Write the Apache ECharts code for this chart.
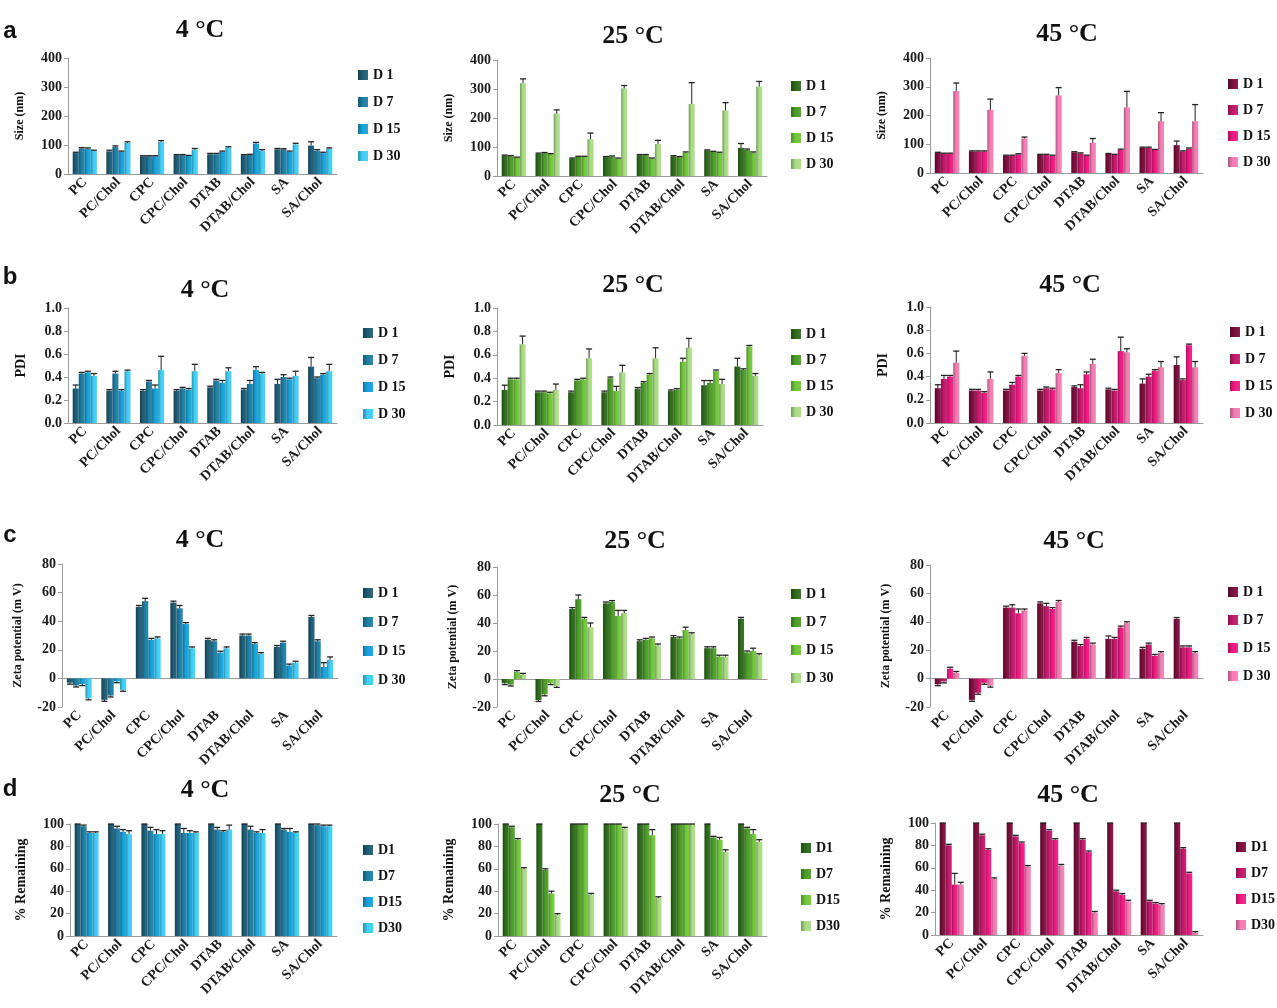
<!DOCTYPE html>
<html>
<head>
<meta charset="utf-8">
<title>Vesicle stability at 4, 25 and 45 °C</title>
<script src="https://cdn.jsdelivr.net/npm/echarts@6/dist/echarts.min.js"></script>
<style>
html, body { margin: 0; padding: 0; background: #fff; }
#chart { width: 1277px; height: 1008px; }
</style>
</head>
<body>
<div id="chart"></div>
<script>
var categories = ['PC', 'PC/Chol', 'CPC', 'CPC/Chol', 'DTAB', 'DTAB/Chol', 'SA', 'SA/Chol']
var dayNames = ['D 1', 'D 7', 'D 15', 'D 30']
var dayNamesD = ['D1', 'D7', 'D15', 'D30']
var temps = ['4 °C', '25 °C', '45 °C']
var panelLetters = ['a', 'b', 'c', 'd']

// rows of each block are D1, D7, D15, D30 ; columns follow categories
// a: size (nm)
var size4 = [
  [72, 78, 61, 65, 68, 65, 85, 98],
  [88, 93, 61, 65, 68, 66, 85, 80],
  [87, 76, 61, 62, 76, 105, 76, 72],
  [79, 107, 110, 84, 91, 80, 102, 87]
]
var size4Err = [
  [3, 4, 2, 2, 3, 2, 3, 13],
  [3, 4, 2, 2, 3, 2, 2, 4],
  [3, 3, 2, 2, 3, 4, 3, 3],
  [3, 4, 5, 4, 3, 4, 4, 3]
]
var size25 = [
  [70, 76, 60, 65, 72, 68, 88, 97],
  [68, 79, 66, 67, 72, 65, 83, 90],
  [63, 75, 66, 60, 60, 80, 80, 80],
  [320, 215, 127, 302, 110, 248, 226, 308]
]
var size25Err = [
  [2, 3, 2, 2, 2, 2, 2, 15],
  [2, 2, 2, 2, 2, 2, 2, 3],
  [2, 2, 2, 2, 2, 3, 2, 3],
  [15, 13, 21, 10, 13, 74, 27, 18]
]
var size45 = [
  [70, 75, 60, 63, 72, 66, 88, 97],
  [67, 75, 60, 63, 68, 63, 88, 75],
  [67, 75, 65, 60, 60, 80, 80, 84],
  [285, 220, 120, 270, 105, 228, 180, 180]
]
var size45Err = [
  [2, 2, 2, 2, 2, 2, 2, 14],
  [2, 2, 2, 2, 2, 2, 2, 2],
  [2, 2, 2, 2, 2, 3, 2, 3],
  [28, 37, 5, 27, 15, 56, 30, 58]
]

// b: PDI
var pdi4 = [
  [0.30, 0.28, 0.28, 0.28, 0.31, 0.29, 0.34, 0.49],
  [0.43, 0.43, 0.36, 0.30, 0.37, 0.34, 0.40, 0.39],
  [0.44, 0.28, 0.30, 0.29, 0.35, 0.46, 0.38, 0.42],
  [0.41, 0.45, 0.46, 0.45, 0.45, 0.43, 0.41, 0.45]
]
var pdi4Err = [
  [0.03, 0.01, 0.01, 0.01, 0.01, 0.01, 0.04, 0.08],
  [0.01, 0.02, 0.01, 0.01, 0.01, 0.03, 0.02, 0.01],
  [0.01, 0.01, 0.03, 0.01, 0.02, 0.03, 0.01, 0.01],
  [0.02, 0.01, 0.12, 0.06, 0.03, 0.01, 0.04, 0.06]
]
var pdi25 = [
  [0.30, 0.28, 0.28, 0.28, 0.31, 0.29, 0.34, 0.50],
  [0.39, 0.28, 0.38, 0.40, 0.36, 0.30, 0.36, 0.47],
  [0.39, 0.27, 0.39, 0.29, 0.43, 0.54, 0.46, 0.67],
  [0.69, 0.30, 0.57, 0.45, 0.57, 0.66, 0.35, 0.42]
]
var pdi25Err = [
  [0.04, 0.01, 0.01, 0.01, 0.01, 0.01, 0.04, 0.07],
  [0.01, 0.01, 0.01, 0.01, 0.01, 0.01, 0.02, 0.01],
  [0.01, 0.01, 0.01, 0.04, 0.01, 0.03, 0.01, 0.01],
  [0.07, 0.05, 0.08, 0.06, 0.09, 0.08, 0.04, 0.02]
]
var pdi45 = [
  [0.30, 0.28, 0.28, 0.28, 0.31, 0.29, 0.34, 0.50],
  [0.38, 0.28, 0.33, 0.30, 0.30, 0.28, 0.40, 0.37],
  [0.40, 0.26, 0.40, 0.29, 0.42, 0.62, 0.45, 0.67],
  [0.52, 0.38, 0.58, 0.43, 0.51, 0.61, 0.48, 0.48]
]
var pdi45Err = [
  [0.03, 0.01, 0.01, 0.01, 0.01, 0.01, 0.04, 0.07],
  [0.03, 0.01, 0.02, 0.01, 0.03, 0.01, 0.02, 0.01],
  [0.01, 0.01, 0.01, 0.01, 0.02, 0.12, 0.01, 0.01],
  [0.10, 0.06, 0.02, 0.03, 0.04, 0.03, 0.05, 0.05]
]

// c: zeta potential (mV)
var zeta4 = [
  [-3, -15, 50, 53, 27, 30, 22, 43],
  [-5, -12, 54, 49, 26, 30, 25, 26],
  [-4, -2, 27, 38, 18, 24, 9, 8],
  [-14, -8, 28, 21, 21, 17, 11, 13]
]
var zeta4Err = [
  [1, 1, 1, 1, 1, 1, 1, 1],
  [1, 1, 2, 2, 1, 1, 1, 1],
  [1, 1, 1, 1, 1, 1, 1, 3],
  [1, 1, 1, 1, 1, 1, 1, 2]
]
var zeta25 = [
  [-3, -15, 50, 54, 27, 30, 22, 43],
  [-4, -11, 57, 55, 28, 29, 22, 19],
  [5, -3, 43, 45, 29, 35, 16, 20],
  [3, -5, 37, 47, 24, 32, 16, 17]
]
var zeta25Err = [
  [1, 1, 1, 1, 1, 1, 1, 1],
  [1, 1, 3, 1, 1, 1, 1, 1],
  [1, 1, 1, 4, 1, 2, 1, 2],
  [1, 1, 3, 2, 1, 1, 1, 1]
]
var zeta45 = [
  [-4, -15, 50, 53, 26, 28, 21, 42],
  [-2, -10, 50, 51, 23, 28, 24, 22],
  [7, -3, 46, 49, 28, 36, 16, 22],
  [4, -5, 48, 54, 24, 39, 18, 18]
]
var zeta45Err = [
  [1, 1, 1, 1, 1, 2, 1, 1],
  [1, 1, 2, 2, 1, 1, 1, 1],
  [1, 1, 3, 1, 1, 1, 1, 1],
  [1, 1, 1, 1, 1, 1, 1, 1]
]

// d: % remaining
var rem4 = [
  [100, 100, 100, 100, 100, 100, 100, 100],
  [98, 96, 94, 92, 95, 95, 95, 99],
  [92, 93, 91, 92, 93, 92, 93, 98],
  [92, 91, 91, 92, 95, 92, 92, 98]
]
var rem4Err = [
  [0, 0, 0, 0, 0, 0, 0, 0],
  [1, 2, 3, 4, 2, 3, 1, 1],
  [1, 2, 4, 2, 1, 1, 3, 1],
  [1, 3, 3, 1, 4, 3, 1, 1]
]
var rem25 = [
  [100, 100, 100, 100, 100, 100, 100, 100],
  [97, 59, 100, 100, 100, 100, 88, 96],
  [86, 38, 100, 100, 90, 100, 86, 91],
  [60, 19, 37, 96, 34, 100, 75, 84]
]
var rem25Err = [
  [0, 0, 0, 0, 0, 0, 0, 0],
  [1, 1, 0, 0, 0, 0, 1, 1],
  [1, 2, 0, 0, 5, 0, 2, 4],
  [1, 1, 1, 1, 1, 0, 2, 2]
]
var rem45 = [
  [100, 100, 100, 100, 100, 100, 100, 100],
  [80, 89, 88, 93, 85, 39, 30, 77],
  [45, 76, 82, 85, 74, 36, 28, 55],
  [45, 50, 61, 62, 20, 30, 27, 2]
]
var rem45Err = [
  [0, 0, 0, 0, 0, 0, 0, 0],
  [1, 1, 1, 1, 1, 1, 1, 1],
  [10, 1, 1, 1, 1, 1, 1, 1],
  [2, 1, 1, 1, 1, 1, 1, 1]
]

var blues = ['#1d5c74', '#1f7ea4', '#16a2d8', '#3fcdf6']
var greens = ['#2e6a1c', '#4c9c2a', '#6fc63a', '#a9dc84']
var pinks = ['#7b0d3b', '#c3176a', '#f01882', '#f47cb2']

var serif = '"Liberation Serif", "DejaVu Serif", serif'
var gapRatio = 0.28

// rows: a size, b PDI, c zeta, d remaining
var rows = [
  {yName: 'Size (nm)', min: 0, max: 400, interval: 100, dec: 0, nameSize: 12, nameGap: 42, labels: dayNames,
    data: [size4, size25, size45], err: [size4Err, size25Err, size45Err]},
  {yName: 'PDI', min: 0, max: 1, interval: 0.2, dec: 1, nameSize: 14, nameGap: 40, labels: dayNames,
    data: [pdi4, pdi25, pdi45], err: [pdi4Err, pdi25Err, pdi45Err]},
  {yName: 'Zeta potential (m V)', min: -20, max: 80, interval: 20, dec: 0, nameSize: 12, nameGap: 38, labels: dayNames,
    data: [zeta4, zeta25, zeta45], err: [zeta4Err, zeta25Err, zeta45Err]},
  {yName: '% Remaining', min: 0, max: 100, interval: 20, dec: 0, nameSize: 14, nameGap: 42, labels: dayNamesD,
    data: [rem4, rem25, rem45], err: [rem4Err, rem25Err, rem45Err]}
]
var palettes = [blues, greens, pinks]

// placement of each panel: plot box, legend, title
var layout = [
  [{l: 68, t: 58, w: 269, h: 116, lx: 353, ly: 63, gap: 13, tx: 200, ty: 30},
   {l: 497, t: 60, w: 270, h: 116, lx: 786, ly: 74, gap: 12, tx: 633, ty: 36},
   {l: 930, t: 58, w: 273, h: 115, lx: 1223, ly: 72, gap: 12, tx: 1067, ty: 34}],
  [{l: 68, t: 308, w: 269, h: 115, lx: 358, ly: 321, gap: 13, tx: 205, ty: 290},
   {l: 497, t: 308, w: 266, h: 117, lx: 786, ly: 322, gap: 12, tx: 633, ty: 285},
   {l: 930, t: 307, w: 273, h: 116, lx: 1225, ly: 320, gap: 13, tx: 1070, ty: 285}],
  [{l: 62, t: 564, w: 276, h: 143, lx: 358, ly: 581, gap: 15, tx: 200, ty: 540},
   {l: 497, t: 567, w: 270, h: 140, lx: 786, ly: 582, gap: 14, tx: 635, ty: 541},
   {l: 930, t: 565, w: 273, h: 142, lx: 1223, ly: 580, gap: 14, tx: 1074, ty: 541}],
  [{l: 70, t: 824, w: 267, h: 112, lx: 358, ly: 838, gap: 12, tx: 205, ty: 790},
   {l: 498, t: 824, w: 269, h: 112, lx: 796, ly: 836, gap: 12, tx: 630, ty: 795},
   {l: 935, t: 823, w: 268, h: 112, lx: 1231, ly: 835, gap: 12, tx: 1068, ty: 795}]
]
var letterY = [31, 277, 535, 789]

function shade (hex, f) {
  var n = parseInt(hex.slice(1), 16)
  var rgb = [(n >> 16) & 255, (n >> 8) & 255, n & 255].map(function (v) {
    return Math.round(f < 0 ? v * (1 + f) : v + (255 - v) * f)
  })
  return 'rgb(' + rgb.join(',') + ')'
}

function barFill (hex) {
  return new echarts.graphic.LinearGradient(0, 0, 1, 0, [
    {offset: 0, color: shade(hex, -0.3)},
    {offset: 0.45, color: hex},
    {offset: 1, color: shade(hex, 0.08)}
  ])
}

function errorBars (params, api) {
  var ci = api.value(0)
  var k = api.value(1)
  var v = api.value(2)
  var e = api.value(3)
  var end = v < 0 ? v - e : v + e
  var p0 = api.coord([ci, v])
  var p1 = api.coord([ci, end])
  var band = api.size([1, 0])[0]
  var group = band * (1 - gapRatio)
  var bw = group / 4
  var x = p0[0] - group / 2 + bw * (k + 0.5)
  var style = {stroke: '#222', lineWidth: 1}
  return {
    type: 'group',
    children: [
      {type: 'line', shape: {x1: x, y1: p0[1], x2: x, y2: p1[1]}, style: style},
      {type: 'line', shape: {x1: x - 3, y1: p1[1], x2: x + 3, y2: p1[1]}, style: {stroke: '#222', lineWidth: 1.3}}
    ]
  }
}

var grid = []
var xAxis = []
var yAxis = []
var legend = []
var series = []
var graphic = []

rows.forEach(function (row, r) {
  graphic.push({
    type: 'text', x: 10, y: letterY[r],
    style: {text: panelLetters[r], font: 'bold 24px "Liberation Sans", Arial, sans-serif', fill: '#111',
      textAlign: 'center', textVerticalAlign: 'middle', align: 'center', verticalAlign: 'middle'}
  })
  for (var c = 0; c < 3; c++) {
    var L = layout[r][c]
    var idx = r * 3 + c
    var pal = palettes[c]
    var names = row.labels.map(function (n) { return n + '#' + idx })

    grid.push({left: L.l, top: L.t, width: L.w, height: L.h})
    xAxis.push({
      type: 'category', gridIndex: idx, data: categories,
      axisLine: {lineStyle: {color: '#9a9a9a', width: 1}},
      axisTick: {length: 4, lineStyle: {color: '#9a9a9a'}},
      axisLabel: {interval: 0, rotate: 45, margin: 6, color: '#1a1a1a', fontFamily: serif, fontSize: 14, fontWeight: 'bold'}
    })
    yAxis.push({
      type: 'value', gridIndex: idx, min: row.min, max: row.max, interval: row.interval,
      name: row.yName, nameLocation: 'middle', nameGap: row.nameGap,
      nameTextStyle: {fontFamily: serif, fontWeight: 'bold', fontSize: row.nameSize, color: '#111'},
      axisLine: {show: true, lineStyle: {color: '#9a9a9a'}},
      axisTick: {show: true, length: 4, lineStyle: {color: '#9a9a9a'}},
      splitLine: {show: false},
      axisLabel: {color: '#1a1a1a', fontFamily: serif, fontSize: 14, fontWeight: 'bold', margin: 6,
        formatter: (function (d) { return function (v) { return v.toFixed(d) } })(row.dec)}
    })
    legend.push({
      data: names, orient: 'vertical', left: L.lx, top: L.ly, icon: 'rect',
      itemWidth: 10, itemHeight: 10, itemGap: L.gap, selectedMode: false,
      textStyle: {fontFamily: serif, fontWeight: 'bold', fontSize: 14, color: '#111'},
      formatter: function (n) { return n.split('#')[0] }
    })
    graphic.push({
      type: 'text', x: L.tx, y: L.ty,
      style: {text: temps[c], font: 'bold 26px "Liberation Serif", serif', fill: '#111',
        textAlign: 'center', textVerticalAlign: 'middle', align: 'center', verticalAlign: 'middle'}
    })

    var errData = []
    for (var k = 0; k < 4; k++) {
      series.push({
        name: names[k], type: 'bar', xAxisIndex: idx, yAxisIndex: idx,
        data: row.data[c][k], barGap: '0%', barCategoryGap: (gapRatio * 100) + '%',
        itemStyle: {color: barFill(pal[k])}, silent: true
      })
      for (var j = 0; j < categories.length; j++) {
        errData.push([j, k, row.data[c][k][j], row.err[c][k][j]])
      }
    }
    series.push({
      type: 'custom', xAxisIndex: idx, yAxisIndex: idx, renderItem: errorBars,
      encode: {x: 0, y: 2}, data: errData, z: 5, silent: true
    })
  }
})

var chart = echarts.init(document.getElementById('chart'))
chart.setOption({
  animation: false,
  backgroundColor: '#ffffff',
  grid: grid,
  xAxis: xAxis,
  yAxis: yAxis,
  legend: legend,
  graphic: graphic,
  series: series
})
</script>
</body>
</html>
